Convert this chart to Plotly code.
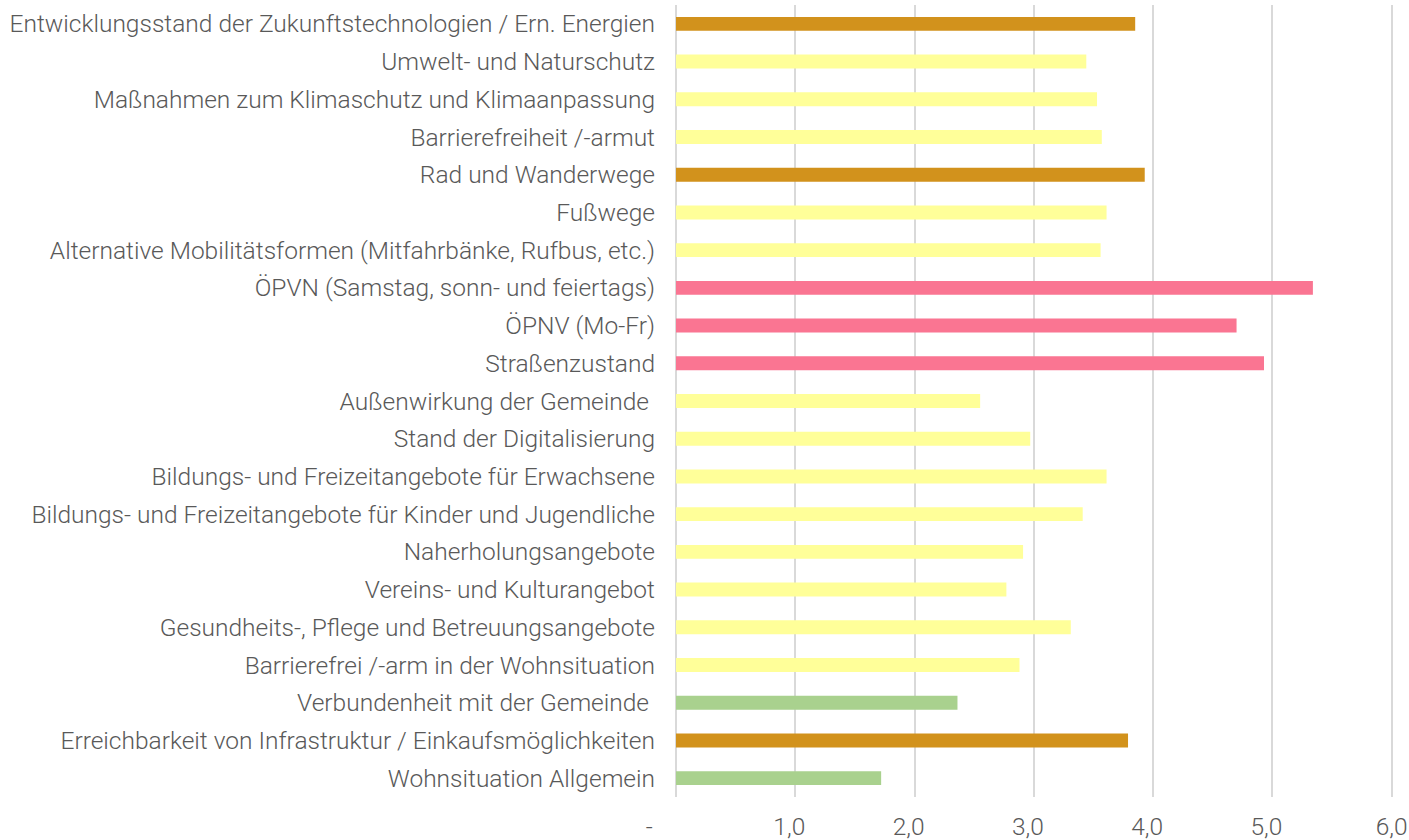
import plotly.graph_objects as go

categories = [
    "Entwicklungsstand der Zukunftstechnologien / Ern. Energien",
    "Umwelt- und Naturschutz",
    "Maßnahmen zum Klimaschutz und Klimaanpassung",
    "Barrierefreiheit /-armut",
    "Rad und Wanderwege",
    "Fußwege",
    "Alternative Mobilitätsformen (Mitfahrbänke, Rufbus, etc.)",
    "ÖPVN (Samstag, sonn- und feiertags)",
    "ÖPNV (Mo-Fr)",
    "Straßenzustand",
    "Außenwirkung der Gemeinde ",
    "Stand der Digitalisierung",
    "Bildungs- und Freizeitangebote für Erwachsene",
    "Bildungs- und Freizeitangebote für Kinder und Jugendliche",
    "Naherholungsangebote",
    "Vereins- und Kulturangebot",
    "Gesundheits-, Pflege und Betreuungsangebote",
    "Barrierefrei /-arm in der Wohnsituation",
    "Verbundenheit mit der Gemeinde ",
    "Erreichbarkeit von Infrastruktur / Einkaufsmöglichkeiten",
    "Wohnsituation Allgemein",
]
values = [3.85, 3.44, 3.53, 3.57, 3.93, 3.61, 3.56, 5.34, 4.70, 4.93,
          2.55, 2.97, 3.61, 3.41, 2.91, 2.77, 3.31, 2.88, 2.36, 3.79, 1.72]
groups = ["gold", "yellow", "yellow", "yellow", "gold", "yellow", "yellow", "pink", "pink", "pink",
          "yellow", "yellow", "yellow", "yellow", "yellow", "yellow", "yellow", "yellow", "green", "gold", "green"]
palette = {"gold": "#D2921C", "yellow": "#FFFF99", "pink": "#FA7592", "green": "#A9D18E"}

NB = "\u00a0"
tick_vals = [0, 1, 2, 3, 4, 5, 6]
tick_text = ["-" + NB * 9, "1,0" + NB * 2, "2,0" + NB * 2, "3,0" + NB * 2,
             "4,0" + NB * 2, "5,0" + NB * 2, "6,0"]

fig = go.Figure(go.Bar(
    x=values, y=categories, orientation="h",
    marker=dict(color=[palette[g] for g in groups], line=dict(width=0)),
))

font_family = "Roboto"
fsize = 24.5
fig.update_layout(
    width=1409, height=840,
    margin=dict(l=676, r=14.6, t=5, b=43, autoexpand=False),
    plot_bgcolor="white", paper_bgcolor="white",
    bargap=0.63,
    showlegend=False,
    font=dict(family=font_family, color="#595959", size=fsize, weight=300),
)
fig.update_xaxes(
    range=[0, 6.02], tickvals=tick_vals, ticktext=tick_text,
    showgrid=True, gridcolor="#D9D9D9", gridwidth=2,
    zeroline=True, zerolinecolor="#D9D9D9", zerolinewidth=2,
    showline=False, ticks="", ticklabelstandoff=12,
    ticklabeloverflow="allow",
    tickfont=dict(size=fsize, color="#595959", family=font_family, weight=300),
)
fig.update_yaxes(
    autorange="reversed", showgrid=False, ticks="", ticklabelstandoff=20,
    tickfont=dict(size=fsize, color="#595959", family=font_family, weight=300),
)

fig.write_html("out.html", config={"displayModeBar": False},
               post_script="document.body.style.margin='0px';document.body.style.overflow='hidden';")
